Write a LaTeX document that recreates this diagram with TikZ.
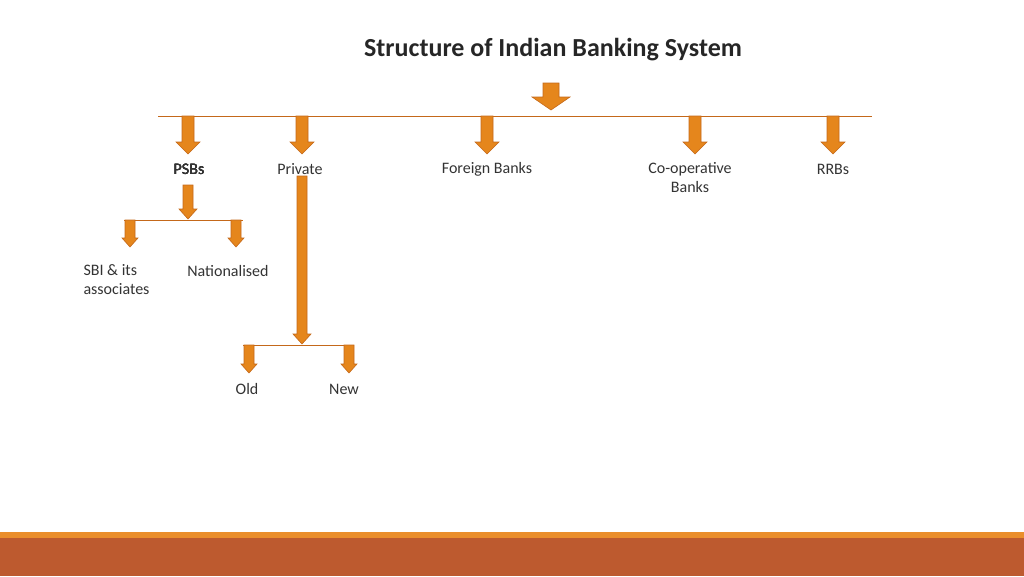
\documentclass[tikz,border=0pt]{standalone}
\usepackage{fontspec}
\setmainfont{Carlito}
\usetikzlibrary{positioning}
\definecolor{arrowfill}{HTML}{E5861C}
\definecolor{arrowline}{HTML}{C4681A}
\definecolor{barlight}{HTML}{EA8E2C}
\definecolor{bardark}{HTML}{BD5A2F}
% block arrow: (x, top, bottom, half shaft, half head, head length)
\def\blockarrow(#1,#2,#3,#4,#5,#6){\draw[arrowline, fill=arrowfill, line width=0.6pt]
  (#1-#4,#2) -- (#1+#4,#2) -- (#1+#4,#3-#6) -- (#1+#5,#3-#6) -- (#1,#3)
  -- (#1-#5,#3-#6) -- (#1-#4,#3-#6) -- cycle;}
\begin{document}
\begin{tikzpicture}[x=1pt, y=-1pt,
  lbl/.style={font=\fontsize{16}{19}\selectfont, text=black!80, align=center},
  rule/.style={arrowline, line width=1pt}]
  \useasboundingbox (0,0) rectangle (1024,576);

  %%%%% TITLE %%%%%
  \node[font=\fontsize{26}{30}\selectfont\bfseries, text=black!85] (title) at (553,50) {Structure of Indian Banking System};
  \blockarrow(551,83,110,8,19,13)

  %%%%% FIRST LEVEL %%%%%
  \draw[rule] (158,116) -- (872,116);
  \foreach \xx in {188,302,487,695,833}
    \blockarrow(\xx,116,154,6,12,12)
  \node[lbl] (psbs) at (189,169) {PSBs};
  \node[lbl] (private) at (300,169) {Private};
  \node[lbl] (foreign) at (487,169) {Foreign Banks};
  \node[lbl, anchor=north] (coop) at (690,159) {Co-operative\\Banks};
  \node[lbl] (rrbs) at (833,169) {RRBs};

  %%%%% PSBs %%%%%
  \blockarrow(188,185,219,5,9,10)
  \draw[rule] (124,220) -- (243,220);
  \blockarrow(130,220,247,5,8,9)
  \blockarrow(236,220,247,5,8,9)
  \node[lbl, anchor=north west, align=left] (sbi) at (80,261) {SBI \& its\\associates};
  \node[lbl] (nat) at (228,271) {Nationalised};

  %%%%% PRIVATE %%%%%
  \blockarrow(302,176,344,5,9,10)
  \draw[rule] (243,345) -- (352,345);
  \blockarrow(249,345,373,5,8,9)
  \blockarrow(349,345,373,5,8,9)
  \node[lbl] (old) at (247,389) {Old};
  \node[lbl] (new) at (344,389) {New};

  %%%%% FOOTER BAR %%%%%
  \fill[barlight] (0,532) rectangle (1024,538);
  \fill[bardark] (0,538) rectangle (1024,576);
\end{tikzpicture}
\end{document}
